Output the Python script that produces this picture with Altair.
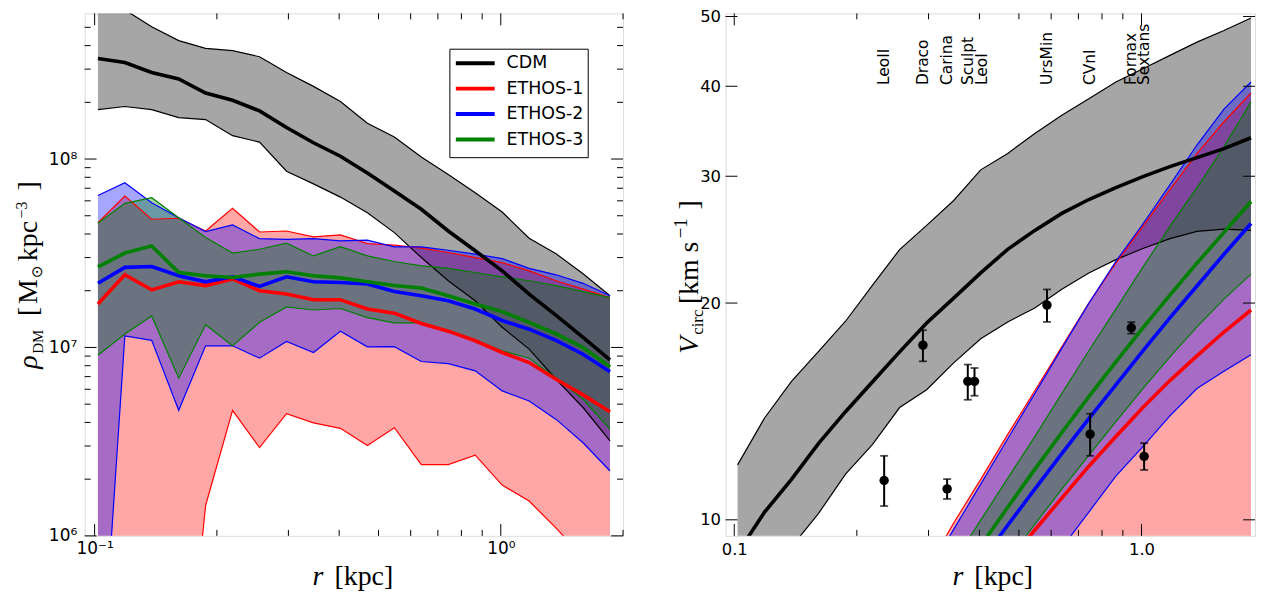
import altair as alt
import pandas as pd

# ---------------- data ----------------
r_kpc = [0.1019, 0.1187, 0.1382, 0.1611, 0.1876, 0.2186, 0.2547, 0.2968, 0.3458, 0.4029,
         0.4694, 0.5470, 0.6373, 0.7425, 0.8652, 1.0079, 1.1743, 1.3683, 1.5942, 1.8575]

models = ["CDM", "ETHOS-1", "ETHOS-2", "ETHOS-3"]
colors = ["black", "red", "blue", "green"]

# left panel: density profiles  [M_sun kpc^-3]
cdm_rho_hi = [7.25e8, 6.19e8, 5.04e8, 4.25e8, 3.87e8, 3.76e8, 3.49e8, 2.88e8, 2.43e8, 2.02e8,
              1.55e8, 1.31e8, 1.026e8, 8.28e7, 6.62e7, 5.23e7, 3.80e7, 3.14e7, 2.46e7, 1.88e7]
cdm_rho_med = [3.42e8, 3.25e8, 2.88e8, 2.66e8, 2.24e8, 2.05e8, 1.80e8, 1.47e8, 1.22e8, 1.035e8,
               8.44e7, 6.76e7, 5.41e7, 4.15e7, 3.26e7, 2.55e7, 1.92e7, 1.48e7, 1.13e7, 8.59e6]
cdm_rho_lo = [1.83e8, 1.90e8, 1.83e8, 1.66e8, 1.62e8, 1.33e8, 1.23e8, 8.62e7, 7.38e7, 6.28e7,
              5.19e7, 4.07e7, 3.00e7, 2.26e7, 1.77e7, 1.28e7, 9.8e6, 6.78e6, 4.80e6, 3.19e6]
e1_rho_hi = [4.59e7, 6.36e7, 4.79e7, 4.85e7, 4.15e7, 5.47e7, 4.10e7, 4.15e7, 3.86e7, 3.96e7,
             3.56e7, 3.49e7, 3.37e7, 3.19e7, 3.00e7, 2.82e7, 2.55e7, 2.26e7, 2.04e7, 1.84e7]
e1_rho_med = [1.70e7, 2.43e7, 2.02e7, 2.23e7, 2.13e7, 2.31e7, 2.00e7, 1.92e7, 1.79e7, 1.79e7,
              1.60e7, 1.52e7, 1.34e7, 1.22e7, 1.085e7, 9.40e6, 8.32e6, 6.78e6, 5.60e6, 4.56e6]
e1_rho_lo = [5e4, 5e4, 5e4, 5.3e4, 1.45e6, 4.64e6, 2.94e6, 4.45e6, 3.98e6, 3.72e6,
             3.02e6, 3.75e6, 2.39e6, 2.39e6, 2.68e6, 1.86e6, 1.53e6, 1.10e6, 7.7e5, 4.6e5]
e2_rho_hi = [6.41e7, 7.48e7, 5.86e7, 4.88e7, 4.12e7, 4.47e7, 3.78e7, 3.75e7, 3.78e7, 3.68e7,
             3.71e7, 3.42e7, 3.42e7, 3.28e7, 3.13e7, 2.96e7, 2.63e7, 2.43e7, 2.19e7, 1.88e7]
e2_rho_med = [2.19e7, 2.66e7, 2.69e7, 2.40e7, 2.23e7, 2.37e7, 2.11e7, 2.37e7, 2.23e7, 2.21e7,
              2.17e7, 1.98e7, 1.88e7, 1.77e7, 1.60e7, 1.39e7, 1.25e7, 1.09e7, 9.21e6, 7.42e6]
e2_rho_lo = [8.3e4, 1.15e7, 1.09e7, 4.64e6, 1.02e7, 1.02e7, 8.77e6, 1.076e7, 9.40e6, 1.22e7,
             1.007e7, 1.01e7, 8.42e6, 8.21e6, 7.51e6, 5.88e6, 5.20e6, 4.15e6, 3.12e6, 2.21e6]
e3_rho_hi = [4.56e7, 5.82e7, 6.23e7, 4.88e7, 3.83e7, 3.17e7, 3.32e7, 3.58e7, 3.06e7, 3.43e7,
             3.06e7, 2.86e7, 2.71e7, 2.63e7, 2.50e7, 2.37e7, 2.26e7, 2.13e7, 1.98e7, 1.84e7]
e3_rho_med = [2.68e7, 3.17e7, 3.46e7, 2.50e7, 2.40e7, 2.35e7, 2.45e7, 2.52e7, 2.40e7, 2.34e7,
              2.23e7, 2.13e7, 2.07e7, 1.88e7, 1.70e7, 1.55e7, 1.36e7, 1.18e7, 1.00e7, 7.89e6]
e3_rho_lo = [9.10e6, 1.18e7, 1.47e7, 6.87e6, 1.32e7, 1.02e7, 1.36e7, 1.64e7, 1.58e7, 1.61e7,
             1.44e7, 1.35e7, 1.35e7, 1.22e7, 1.09e7, 9.60e6, 8.77e6, 6.87e6, 5.31e6, 3.67e6]

# right panel: circular velocity  [km/s]
cdm_v_hi = [11.92, 13.85, 15.57, 17.14, 18.87, 21.18, 23.73, 25.64, 27.76, 30.62,
            32.27, 34.40, 36.47, 38.45, 40.55, 42.31, 44.15, 46.06, 47.81, 49.77]
cdm_v_med = [8.99, 10.25, 11.38, 12.77, 14.13, 15.55, 17.11, 18.77, 20.32, 22.03,
             23.75, 25.23, 26.64, 27.85, 28.93, 29.96, 30.94, 31.84, 32.77, 33.93]
cdm_v_lo = [7.29, 8.17, 9.17, 10.21, 11.57, 12.73, 14.32, 15.16, 16.52, 17.84,
            18.83, 19.69, 20.91, 22.02, 22.98, 23.81, 24.58, 25.15, 25.34, 25.23]
e1_v_hi = [3.0, 3.5, 4.1, 4.7, 5.5, 6.35, 7.36, 8.52, 9.90, 11.38,
           13.14, 15.11, 17.39, 20.0, 22.72, 25.56, 28.75, 32.24, 35.71, 39.15]
e1_v_med = [2.0, 2.4, 2.9, 3.4, 4.0, 4.7, 5.5, 6.4, 7.1, 7.9,
            8.71, 9.68, 10.72, 11.87, 13.05, 14.32, 15.61, 16.89, 18.23, 19.56]
e1_v_lo = [1.0, 1.2, 1.5, 1.8, 2.2, 2.6, 3.1, 3.6, 4.2, 4.8,
           5.4, 6.0, 6.6, 7.1, 7.6, 8.0, 8.4, 8.7, 8.9, 9.1]
e2_v_hi = [2.8, 3.3, 3.9, 4.6, 5.4, 6.2, 7.2, 8.39, 9.70, 11.21,
           12.96, 14.97, 17.3, 19.98, 22.85, 25.75, 29.18, 33.15, 37.18, 40.55]
e2_v_med = [1.9, 2.3, 2.8, 3.4, 4.0, 4.8, 5.7, 6.7, 7.74, 8.74,
            9.83, 11.03, 12.36, 13.82, 15.40, 17.17, 19.07, 21.12, 23.38, 25.79]
e2_v_lo = [1.0, 1.3, 1.6, 2.0, 2.5, 3.1, 3.8, 4.7, 5.7, 6.6,
           7.3, 8.15, 9.14, 10.25, 11.5, 12.64, 13.94, 15.22, 16.08, 16.95]
e3_v_hi = [2.5, 3.0, 3.6, 4.3, 5.1, 6.0, 6.9, 7.64, 8.74, 9.99,
           11.42, 13.05, 14.97, 17.17, 19.62, 22.43, 25.56, 28.93, 32.97, 38.05]
e3_v_med = [1.9, 2.3, 2.8, 3.4, 4.1, 4.9, 5.9, 7.0, 8.12, 9.20,
            10.41, 11.75, 13.22, 14.83, 16.57, 18.47, 20.51, 22.72, 25.07, 27.67]
e3_v_lo = [1.0, 1.3, 1.6, 2.0, 2.5, 3.1, 3.9, 4.8, 6.0, 7.74,
           8.80, 9.86, 11.03, 12.29, 13.69, 15.21, 16.84, 18.53, 20.25, 21.94]

# Milky-Way dwarf spheroidals
dw_name = ["LeoII", "Draco", "Carina", "Sculpt", "LeoI", "UrsMin", "CVnI", "Fornax", "Sextans"]
dw_r = [0.2334, 0.2906, 0.3332, 0.3745, 0.389, 0.586, 0.748, 0.944, 1.015]
dw_v = [11.34, 17.48, 11.04, 15.57, 15.57, 19.87, 13.15, 18.48, 12.25]
dw_v_hi = [12.27, 18.34, 11.39, 16.43, 16.25, 20.89, 14.04, 18.82, 12.78]
dw_v_lo = [10.45, 16.60, 10.69, 14.68, 14.87, 18.83, 12.27, 18.14, 11.73]
dw_label_r = [0.2334, 0.2906, 0.3332, 0.3745, 0.406, 0.586, 0.748, 0.944, 1.015]

# axis ticks
xL_major = [0.1, 1.0]
xL_minor = [0.2, 0.3, 0.4, 0.5, 0.6, 0.7, 0.8, 0.9, 2.0]
yL_major = [1e6, 1e7, 1e8]
yL_minor = [2e6, 3e6, 4e6, 5e6, 6e6, 7e6, 8e6, 9e6, 2e7, 3e7, 4e7, 5e7, 6e7, 7e7, 8e7, 9e7,
            2e8, 3e8, 4e8, 5e8]
xR_major = [0.1, 1.0]
xR_minor = [0.2, 0.3, 0.4, 0.5, 0.6, 0.7, 0.8, 0.9]
yR_major = [10, 20, 30, 40, 50]

# ---------------- chart ----------------
W_L, W_R, H = 541, 532, 525
one = pd.DataFrame({"a": [0]})

xsL = alt.Scale(type="log", domain=[0.0945, 2.0], nice=False)
ysL = alt.Scale(type="log", domain=[1e6, 5.93e8], nice=False)
xsR = alt.Scale(type="log", domain=[0.0952, 1.90], nice=False)
ysR = alt.Scale(type="log", domain=[9.5, 50.5], nice=False)

common = dict(labelFont="DejaVu Sans", labelColor="black", ticks=False,
              domain=False, grid=False, title=None, tickSize=0, labelOverlap=False)
axXL = alt.Axis(values=xL_major, labelExpr="datum.value < 0.5 ? '10⁻¹' : '10⁰'",
                labelPadding=5, labelFontSize=17, **common)
axYL = alt.Axis(values=yL_major,
                labelExpr="datum.value < 5e6 ? '10⁶' : (datum.value < 5e7 ? '10⁷' : '10⁸')",
                labelPadding=8, labelFontSize=17, **common)
axXR = alt.Axis(values=xR_major, labelExpr="datum.value < 0.5 ? '0.1' : '1.0'",
                labelPadding=6, labelFontSize=16.5, **common)
axYR = alt.Axis(values=yR_major, format="d", labelPadding=5, labelFontSize=16.5, **common)


def tick_layer(vals, ch, length, side, scale, axis, W):
    base = alt.Chart(pd.DataFrame({"v": vals})).mark_rule(color="black", strokeWidth=1)
    if ch == "x":
        enc = dict(x=alt.X("v:Q", scale=scale, axis=axis))
        if side == "bottom":
            enc.update(y=alt.value(H), y2=alt.value(H - length))
        else:
            enc.update(y=alt.value(0), y2=alt.value(length))
    else:
        enc = dict(y=alt.Y("v:Q", scale=scale, axis=axis))
        if side == "left":
            enc.update(x=alt.value(0), x2=alt.value(length))
        else:
            enc.update(x=alt.value(W - length), x2=alt.value(W))
    return base.encode(**enc)


def text_piece(text, px, py, size, italic=False, angle=270, font="Liberation Serif",
               baseline="alphabetic"):
    return alt.Chart(one).mark_text(
        text=text, angle=angle, align="left", baseline=baseline, font=font,
        fontSize=size, fontStyle="italic" if italic else "normal", color="black"
    ).encode(x=alt.value(px), y=alt.value(py))


def panel_layers(lo, med, hi, xs, ys, ax, ay):
    bands, edges, meds = [], [], []
    for k, (m, c) in enumerate(zip(models, colors)):
        df = pd.DataFrame({"r": r_kpc, "lo": lo[k], "med": med[k], "hi": hi[k], "model": m})
        X = alt.X("r:Q", scale=xs, axis=ax)
        bands.append(alt.Chart(df).mark_area(color=c, opacity=0.35, clip=True).encode(
            x=X, y=alt.Y("lo:Q", scale=ys, axis=ay, stack=None), y2="hi:Q"))
        for col in ("lo", "hi"):
            edges.append(alt.Chart(df).mark_line(color=c, strokeWidth=1.2, clip=True).encode(
                x=X, y=alt.Y(col + ":Q", scale=ys, axis=ay)))
        meds.append(alt.Chart(df).mark_line(color=c, strokeWidth=3.6, clip=True).encode(
            x=X, y=alt.Y("med:Q", scale=ys, axis=ay)))
    return bands + edges + meds


# ----- left panel -----
L = panel_layers([cdm_rho_lo, e1_rho_lo, e2_rho_lo, e3_rho_lo],
                 [cdm_rho_med, e1_rho_med, e2_rho_med, e3_rho_med],
                 [cdm_rho_hi, e1_rho_hi, e2_rho_hi, e3_rho_hi],
                 xsL, ysL, axXL, axYL)
for vals, ln in ((xL_major, 12), (xL_minor, 6)):
    for side in ("bottom", "top"):
        L.append(tick_layer(vals, "x", ln, side, xsL, axXL, W_L))
for vals, ln in ((yL_major, 12), (yL_minor, 6)):
    for side in ("left", "right"):
        L.append(tick_layer(vals, "y", ln, side, ysL, axYL, W_L))

# legend box (upper right of the left panel)
L.append(alt.Chart(one).mark_rect(fill="white", stroke="black", strokeWidth=1).encode(
    x=alt.value(367), x2=alt.value(506), y=alt.value(36), y2=alt.value(145)))
for k, (m, c) in enumerate(zip(models, colors)):
    yk = 50 + 25.6 * k
    L.append(alt.Chart(one).mark_rule(color=c, strokeWidth=4).encode(
        x=alt.value(373), x2=alt.value(412), y=alt.value(yk)))
    L.append(text_piece(m, 424, yk, 17.5, angle=0, font="DejaVu Sans", baseline="middle"))

# axis titles
L += [
    text_piece("r", 229, 574, 28, italic=True, angle=0),
    text_piece("[kpc]", 251, 574, 28, angle=0),
    text_piece("ρ", -48, 357, 28, italic=True),
    text_piece("DM", -42, 342, 15),
    text_piece("[", -48, 304, 28),
    text_piece("M", -48, 292, 28),
    text_piece("⊙", -43, 266, 15, font="DejaVu Sans"),
    text_piece("kpc", -48, 249, 28),
    text_piece("−3", -58, 206, 16),
    text_piece("]", -48, 178, 28),
]
left = alt.layer(*L).properties(width=W_L, height=H)

# ----- right panel -----
R = panel_layers([cdm_v_lo, e1_v_lo, e2_v_lo, e3_v_lo],
                 [cdm_v_med, e1_v_med, e2_v_med, e3_v_med],
                 [cdm_v_hi, e1_v_hi, e2_v_hi, e3_v_hi],
                 xsR, ysR, axXR, axYR)
dw = pd.DataFrame({"name": dw_name, "r": dw_r, "v": dw_v, "hi": dw_v_hi, "lo": dw_v_lo,
                   "lr": dw_label_r})
XR = alt.X("r:Q", scale=xsR, axis=axXR)
R.append(alt.Chart(dw).mark_rule(color="black", strokeWidth=2).encode(
    x=XR, y=alt.Y("lo:Q", scale=ysR, axis=axYR), y2="hi:Q"))
for col in ("lo", "hi"):
    R.append(alt.Chart(dw).mark_tick(color="black", orient="horizontal", size=8,
                                     thickness=1.8).encode(
        x=XR, y=alt.Y(col + ":Q", scale=ysR, axis=axYR)))
R.append(alt.Chart(dw).mark_circle(color="black", opacity=1, size=90).encode(
    x=XR, y=alt.Y("v:Q", scale=ysR, axis=axYR)))
R.append(alt.Chart(dw).mark_text(angle=270, align="left", baseline="middle",
                                 font="DejaVu Sans", fontSize=15.5, color="black").encode(
    x=alt.X("lr:Q", scale=xsR, axis=axXR), y=alt.value(72), text="name:N"))
for vals, ln in ((xR_major, 12), (xR_minor, 6)):
    for side in ("bottom", "top"):
        R.append(tick_layer(vals, "x", ln, side, xsR, axXR, W_R))
for side in ("left", "right"):
    R.append(tick_layer(yR_major, "y", 12, side, ysR, axYR, W_R))
R += [
    text_piece("r", 228, 574, 28, italic=True, angle=0),
    text_piece("[kpc]", 250, 574, 28, angle=0),
    text_piece("V", -28, 342, 28, italic=True),
    text_piece("circ", -23, 323, 17),
    text_piece("[", -28, 292, 28),
    text_piece("km s", -28, 283, 28),
    text_piece("−1", -39, 226, 19),
    text_piece("]", -28, 197, 28),
]
right = alt.layer(*R).properties(width=W_R, height=H)

chart = alt.hconcat(left, right, spacing=47).properties(
    padding={"left": 5, "top": -2, "right": 0, "bottom": 0}
).configure_view(stroke="black", strokeWidth=1).configure(background="white")

chart.save("out.html", embed_options={"renderer": "svg", "actions": False})
